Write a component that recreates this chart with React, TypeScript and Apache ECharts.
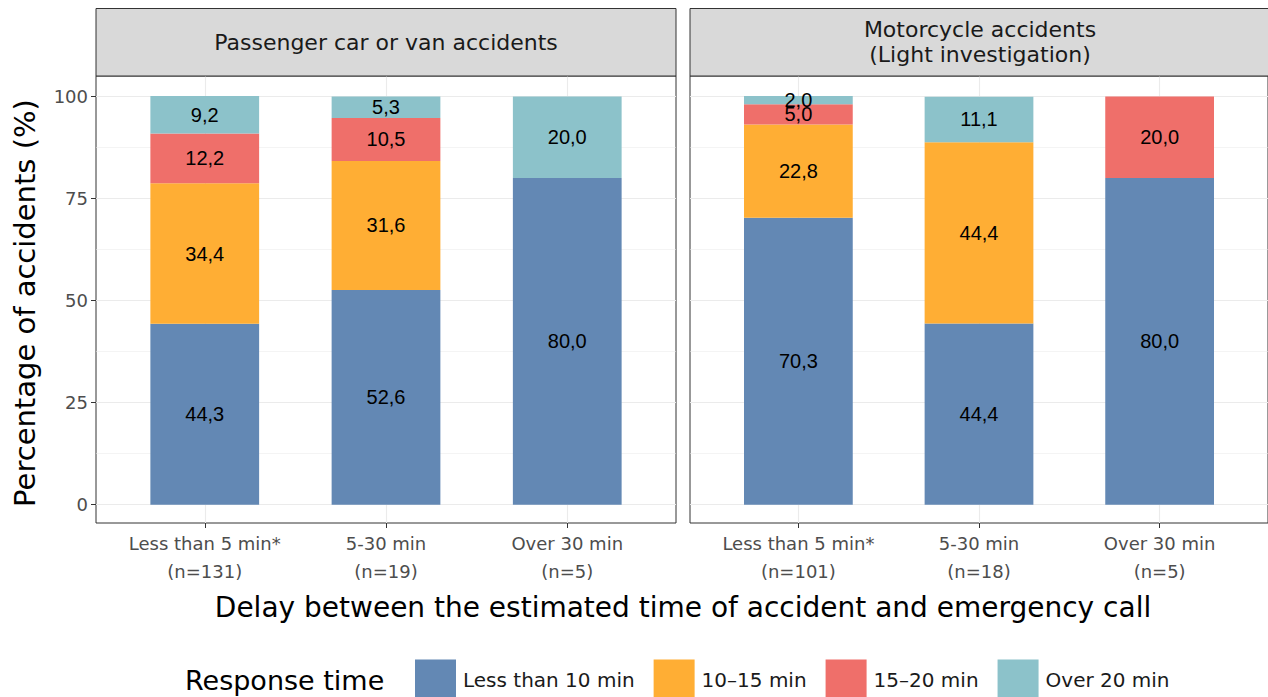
import React, { useEffect, useRef } from "react";
import * as echarts from "echarts";

// ---- data ----
const panelTitles = ["Passenger car or van accidents", "Motorcycle accidents\n(Light investigation)"];
const delayCategories = ["Less than 5 min*", "5-30 min", "Over 30 min"];
const carCounts = ["(n=131)", "(n=19)", "(n=5)"];
const motoCounts = ["(n=101)", "(n=18)", "(n=5)"];
const responseTimes = ["Less than 10 min", "10\u201315 min", "15\u201320 min", "Over 20 min"];
const colors = ["#6388b4", "#ffae34", "#ef6f6a", "#8cc2ca"];

const carUnder10 = [44.3, 52.6, 80.0];
const car10to15 = [34.4, 31.6, 0];
const car15to20 = [12.2, 10.5, 0];
const carOver20 = [9.2, 5.3, 20.0];

const motoUnder10 = [70.3, 44.4, 80.0];
const moto10to15 = [22.8, 44.4, 0];
const moto15to20 = [5.0, 0, 20.0];
const motoOver20 = [2.0, 11.1, 0];

const yTicks = [0, 25, 50, 75, 100];
const yMinorTicks = [12.5, 37.5, 62.5, 87.5];
const xPositions = [1, 2, 3];

const FONT = "DejaVu Sans, Verdana, sans-serif";
const LABEL_FONT = "Liberation Sans, Arial, sans-serif";

export default function App() {
  const ref = useRef<HTMLDivElement>(null);

  useEffect(() => {
    if (!ref.current) return;
    const chart = echarts.init(ref.current, null, { renderer: "svg" });

    const panelLefts = [96, 690];
    const panelWidth = 580;
    const panelTop = 76;
    const panelHeight = 447;
    const yMin = -4.5;
    const yMax = 105;
    const panels = [
      { counts: carCounts, values: [carUnder10, car10to15, car15to20, carOver20] },
      { counts: motoCounts, values: [motoUnder10, moto10to15, moto15to20, motoOver20] },
    ];

    const grid = panelLefts.map((l) => ({
      left: l,
      top: panelTop,
      width: panelWidth,
      height: panelHeight,
      show: true,
      borderColor: "#333333",
      borderWidth: 1,
      backgroundColor: "transparent",
    }));

    const xAxis = panels.map((p, i) => ({
      type: "value",
      gridIndex: i,
      min: 0.4,
      max: 3.6,
      axisLine: { show: false, onZero: false },
      axisTick: { show: true, customValues: xPositions, length: 5, lineStyle: { color: "#333333", width: 1 } },
      axisLabel: {
        customValues: xPositions,
        formatter: (v: number) => {
          const k = Math.round(v) - 1;
          return delayCategories[k] + "\n" + p.counts[k];
        },
        fontSize: 18,
        color: "#4d4d4d",
        lineHeight: 28,
        margin: 6,
        fontFamily: FONT,
      },
      splitLine: { show: true, lineStyle: { color: "#ebebeb", width: 1.1 } },
    }));

    const yAxis: any[] = [];
    panels.forEach((_, i) => {
      yAxis.push({
        type: "value",
        gridIndex: i,
        min: yMin,
        max: yMax,
        position: "left",
        axisLine: { show: false, onZero: false },
        axisTick: { show: i === 0, customValues: yTicks, length: 5, lineStyle: { color: "#333333", width: 1 } },
        axisLabel: {
          show: i === 0,
          customValues: yTicks,
          fontSize: 18,
          color: "#4d4d4d",
          margin: 8,
          fontFamily: FONT,
        },
        splitLine: { show: true, lineStyle: { color: "#ebebeb", width: 1.1 } },
      });
    });
    panels.forEach((_, i) => {
      yAxis.push({
        type: "value",
        gridIndex: i,
        min: yMin,
        max: yMax,
        position: "left",
        axisLine: { show: false, onZero: false },
        axisTick: { show: false, customValues: yMinorTicks },
        axisLabel: { show: false, customValues: yMinorTicks },
        splitLine: { show: true, lineStyle: { color: "#ebebeb", width: 0.55 } },
      });
    });

    const series: any[] = [];
    panels.forEach((p, pi) => {
      p.values.forEach((vals, ri) => {
        series.push({
          type: "bar",
          name: responseTimes[ri],
          xAxisIndex: pi,
          yAxisIndex: pi,
          stack: "panel" + pi,
          barWidth: 108.75,
          itemStyle: { color: colors[ri] },
          // value first so that stacking happens along y
          encode: { x: 1, y: 0 },
          label: {
            show: true,
            position: "inside",
            color: "#000000",
            fontSize: 20,
            fontFamily: LABEL_FONT,
            formatter: (prm: any) => {
              const v = prm.value[0];
              return v ? v.toFixed(1).replace(".", ",") : "";
            },
          },
          emphasis: { disabled: true },
          data: vals.map((v, k) => [v, xPositions[k]]),
        });
      });
    });

    const graphic: any[] = [];
    panelLefts.forEach((l, i) => {
      graphic.push({
        type: "rect",
        shape: { x: l, y: 8.5, width: panelWidth, height: panelTop - 8.5 },
        style: { fill: "#d9d9d9", stroke: "#333333", lineWidth: 1 },
        z: 10,
      });
      graphic.push({
        type: "text",
        x: l + panelWidth / 2,
        y: (8.5 + panelTop) / 2,
        style: {
          text: panelTitles[i],
          fontSize: 22,
          lineHeight: 25,
          fill: "#1a1a1a",
          fontFamily: FONT,
          align: "center",
          verticalAlign: "middle",
        },
        z: 11,
      });
    });
    graphic.push({
      type: "text",
      x: 25,
      y: 303,
      rotation: Math.PI / 2,
      style: {
        text: "Percentage of accidents (%)",
        fontSize: 29,
        fill: "#000000",
        fontFamily: FONT,
        align: "center",
        verticalAlign: "middle",
      },
    });
    graphic.push({
      type: "text",
      x: 683,
      y: 607,
      style: {
        text: "Delay between the estimated time of accident and emergency call",
        fontSize: 28,
        fill: "#000000",
        fontFamily: FONT,
        align: "center",
        verticalAlign: "middle",
      },
    });
    graphic.push({
      type: "text",
      x: 185,
      y: 680,
      style: {
        text: "Response time",
        fontSize: 27,
        fill: "#000000",
        fontFamily: FONT,
        align: "left",
        verticalAlign: "middle",
      },
    });

    chart.setOption({
      animation: false,
      backgroundColor: "#ffffff",
      grid,
      xAxis,
      yAxis,
      series,
      graphic,
      legend: {
        data: responseTimes,
        left: 415,
        top: 659.5,
        padding: 0,
        icon: "rect",
        itemWidth: 41,
        itemHeight: 41,
        itemGap: 19,
        selectedMode: false,
        textStyle: { fontSize: 20, color: "#1a1a1a", fontFamily: FONT, padding: [0, 0, 0, 2] },
      },
    });

    return () => chart.dispose();
  }, []);

  return (
    <div
      ref={ref}
      style={{ position: "absolute", left: 0, top: 0, width: 1268, height: 697 }}
    />
  );
}
